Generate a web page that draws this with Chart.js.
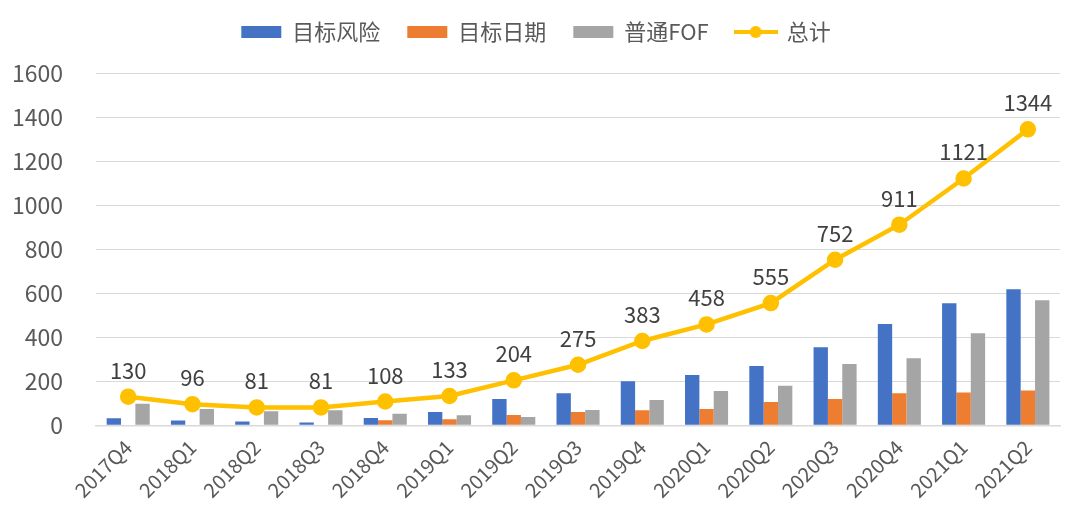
<!DOCTYPE html>
<html>
<head>
<meta charset="utf-8">
<script src="https://cdn.jsdelivr.net/npm/chart.js@4/dist/chart.umd.min.js"></script>
<style>
  body { margin: 0; background: #fff; }
</style>
</head>
<body>
<canvas id="chart" width="1076" height="524"></canvas>
<script>
const quarters = ['2017Q4','2018Q1','2018Q2','2018Q3','2018Q4','2019Q1','2019Q2','2019Q3','2019Q4','2020Q1','2020Q2','2020Q3','2020Q4','2021Q1','2021Q2'];
const targetRisk = [32, 22, 17, 13, 33, 60, 119, 146, 200, 228, 269, 355, 460, 554, 618];
const targetDate = [0, 0, 0, 0, 23, 27, 47, 60, 68, 74, 106, 119, 146, 149, 158];
const normalFof = [98, 74, 64, 68, 52, 46, 38, 69, 115, 156, 180, 278, 305, 418, 568];
const total = [130, 96, 81, 81, 108, 133, 204, 275, 383, 458, 555, 752, 911, 1121, 1344];
const yTicks = [0, 200, 400, 600, 800, 1000, 1200, 1400, 1600];

const font = "'Noto Sans CJK SC', 'Noto Sans', sans-serif";
const textColor = '#595959';

// legend marker for the line: yellow line with a dot
const lineMark = document.createElement('canvas');
lineMark.width = 44; lineMark.height = 14;
let mc = lineMark.getContext('2d');
mc.strokeStyle = '#FFC000'; mc.lineWidth = 4;
mc.beginPath(); mc.moveTo(0, 7); mc.lineTo(44, 7); mc.stroke();
mc.fillStyle = '#FFC000';
mc.beginPath(); mc.arc(22, 7, 6, 0, Math.PI * 2); mc.fill();

const totalLabels = {
  id: 'totalLabels',
  afterDatasetsDraw(chart) {
    const ctx = chart.ctx;
    const meta = chart.getDatasetMeta(3);
    ctx.save();
    ctx.font = '22px ' + font;
    ctx.fillStyle = '#404040';
    ctx.textAlign = 'center';
    ctx.textBaseline = 'alphabetic';
    meta.data.forEach((pt, i) => {
      ctx.fillText(total[i], pt.x, pt.y - 18);
    });
    ctx.restore();
  }
};

// extra room under the legend
const legendSpace = {
  id: 'legendSpace',
  beforeInit(chart) {
    const fit = chart.legend.fit;
    chart.legend.fit = function () {
      fit.bind(chart.legend)();
      this.height += 20;
    };
  }
};

new Chart(document.getElementById('chart').getContext('2d'), {
  type: 'bar',
  data: {
    labels: quarters,
    datasets: [
      { label: '目标风险', data: targetRisk, backgroundColor: '#4472C4', order: 2 },
      { label: '目标日期', data: targetDate, backgroundColor: '#ED7D31', order: 2 },
      { label: '普通FOF', data: normalFof, backgroundColor: '#A5A5A5', order: 2 },
      { label: '总计', data: total, type: 'line', borderColor: '#FFC000', backgroundColor: '#FFC000',
        borderWidth: 4.5, pointRadius: 6, pointHoverRadius: 6, tension: 0, order: 1 }
    ]
  },
  options: {
    responsive: false,
    animation: false,
    layout: { padding: { top: -6, right: 16, bottom: 20, left: 12 } },
    datasets: { bar: { categoryPercentage: 0.67, barPercentage: 1 } },
    plugins: {
      tooltip: { enabled: false },
      legend: {
        position: 'top',
        labels: {
          font: { family: font, size: 22 },
          color: textColor,
          usePointStyle: true,
          boxHeight: 12,
          pointStyleWidth: 40,
          padding: 27,
          sort: (a, b) => a.datasetIndex - b.datasetIndex,
          generateLabels(chart) {
            const items = Chart.defaults.plugins.legend.labels.generateLabels(chart);
            items.forEach(it => {
              if (it.datasetIndex === 3) {
                it.pointStyle = lineMark;
              } else {
                it.pointStyle = 'rect';
                it.lineWidth = 0;
              }
            });
            return items;
          }
        }
      }
    },
    scales: {
      x: {
        grid: { display: false },
        border: { color: '#D9D9D9', width: 1.5 },
        afterFit(scale) { scale.paddingLeft = 0; scale.paddingRight = 0; },
        ticks: {
          font: { family: font, size: 20 },
          color: textColor,
          minRotation: 45,
          maxRotation: 45,
          padding: 2
        }
      },
      y: {
        min: 0,
        max: 1600,
        afterBuildTicks(axis) { axis.ticks = yTicks.map(v => ({ value: v })); },
        afterFit(scale) { scale.width -= 33; },
        grid: { color: '#D9D9D9', lineWidth: 1, drawTicks: false },
        border: { display: false },
        ticks: {
          font: { family: font, size: 23 },
          color: textColor,
          padding: 33,
          callback: v => String(v)
        }
      }
    }
  },
  plugins: [totalLabels, legendSpace]
});
</script>
</body>
</html>
